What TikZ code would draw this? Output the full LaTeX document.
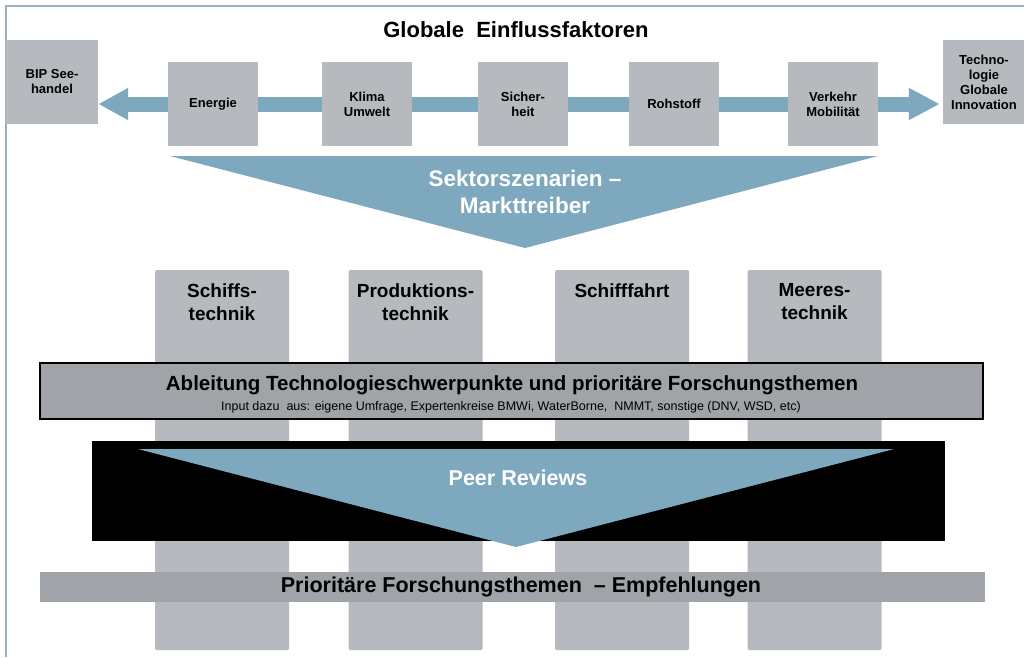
\documentclass[tikz,border=0pt]{standalone}
\usepackage{fontspec}
\setmainfont{Liberation Sans}
\usepackage{tikz}
\usetikzlibrary{arrows.meta}
\usetikzlibrary{positioning}
\usetikzlibrary{backgrounds}
\definecolor{FlowBlue}{HTML}{7EA8BE}
\definecolor{BoxGrey}{HTML}{B6B9BD}
\definecolor{BandGrey}{HTML}{A0A3A7}
\definecolor{FrameBlue}{HTML}{9BB0C0}

\begin{document}
\begin{tikzpicture}[x=1pt, y=-1pt,
    factor/.style={fill=BoxGrey, minimum width=90pt, minimum height=84pt, inner sep=0pt,
      align=center, font=\fontsize{13}{15}\selectfont\bfseries},
    sector/.style={fill=BoxGrey, rounded corners=1.5pt, minimum width=134pt, minimum height=380pt, inner sep=0pt},
    sectorlabel/.style={align=center, font=\fontsize{19}{23}\selectfont\bfseries},
    band/.style={fill=BandGrey, inner sep=0pt},
    flow/.style={draw=FlowBlue, line width=15pt, {Triangle[width=30pt,length=30pt]}-{Triangle[width=30pt,length=31pt]}},
    bigtext/.style={align=center, font=\fontsize{22.5}{27}\selectfont\bfseries}]
    \useasboundingbox (0,0) rectangle (1024,657);
    \draw[FrameBlue, line width=1.5pt] (1024,6) -- (6,6) -- (6,657);

    \node[font=\fontsize{22}{26}\selectfont\bfseries] (title) at (516,30) {Globale\ \ Einflussfaktoren};

    % global factors
    \node[factor, minimum width=92pt] (bip) at (52,82) {BIP See-\\handel};
    \node[factor] (energie) at (213,104) {Energie};
    \node[factor] (klima) at (367,104) {Klima\\Umwelt};
    \node[factor] (sicher) at (523,104) {Sicher-\\heit};
    \node[factor] (rohstoff) at (674,104) {Rohstoff};
    \node[factor] (verkehr) at (833,104) {Verkehr\\Mobilität};
    \node[factor, minimum width=82pt] (tech) at (984,82) {Techno-\\logie\\Globale\\Innovation};
    \begin{scope}[on background layer]
      \draw[flow, shorten >=3pt] (bip.east |- energie.center) -- (tech.west |- energie.center);
    \end{scope}

    \fill[FlowBlue] (170,156) -- (878,156) -- (525,248) -- cycle;
    \node[bigtext, text=white] (szenario) at (525,192) {Sektorszenarien --\\Markttreiber};

    % sectors
    \node[sector] (s1) at (222,460) {};
    \node[sector] (s2) at (415.5,460) {};
    \node[sector] (s3) at (622,460) {};
    \node[sector] (s4) at (814.5,460) {};
    \node[sectorlabel, below=10pt of s1.north] {Schiffs-\\technik};
    \node[sectorlabel, below=10pt of s2.north] {Produktions-\\technik};
    \node[sectorlabel, below=10pt of s3.north] {Schifffahrt};
    \node[sectorlabel, below=10pt of s4.north] {Meeres-\\technik};

    \node[band, draw=black, line width=1.2pt, minimum width=943pt, minimum height=56pt] (derive) at (511.5,391) {};
    \node[font=\fontsize{20.5}{24}\selectfont\bfseries] (derivetitle) at (512,385) {Ableitung Technologieschwerpunkte und prioritäre Forschungsthemen};
    \node[font=\fontsize{12.5}{14}\selectfont] (derivenote) at (511,407.5) {Input dazu\ \ aus: eigene Umfrage, Expertenkreise BMWi, WaterBorne,\ \ NMMT, sonstige (DNV, WSD, etc)};

    % peer reviews
    \node[fill=black, minimum width=853pt, minimum height=100pt, inner sep=0pt] (review) at (518.5,491) {};
    \fill[FlowBlue] (138,449) -- (894,449) -- (516,547) -- cycle;
    \node[bigtext, text=white, font=\fontsize{21.5}{26}\selectfont\bfseries] (peer) at (518,478) {Peer Reviews};

    \node[band, minimum width=945pt, minimum height=30pt] (result) at (512.5,587) {};
    \node[font=\fontsize{21.5}{25}\selectfont\bfseries] (resulttext) at (521,587) {Prioritäre Forschungsthemen\ \ -- Empfehlungen};
\end{tikzpicture}
\end{document}
